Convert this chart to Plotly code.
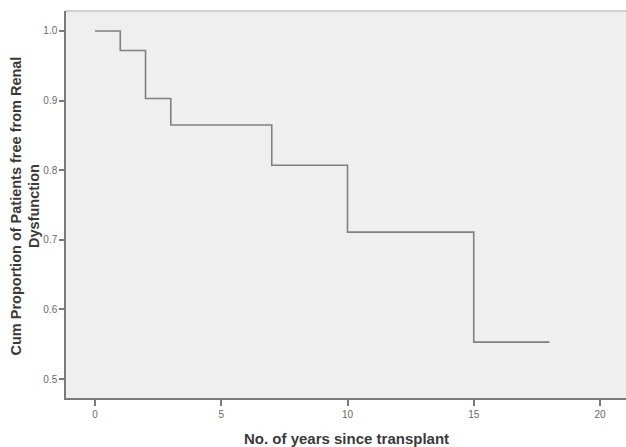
import plotly.graph_objects as go

years = [0, 1, 2, 3, 7, 10, 15, 18]
cum_prop = [1.0, 0.972, 0.903, 0.865, 0.807, 0.711, 0.553, 0.553]
x_ticks = [0, 5, 10, 15, 20]
y_ticks = [0.5, 0.6, 0.7, 0.8, 0.9, 1.0]
y_tick_labels = ["0.5", "0.6", "0.7", "0.8", "0.9", "1.0"]
x_title = "No. of years since transplant"
y_title = "Cum Proportion of Patients free from Renal<br>Dysfunction"

fig = go.Figure()
fig.add_trace(go.Scatter(
    x=years, y=cum_prop, mode="lines",
    line=dict(shape="hv", color="#808080", width=1.6),
    showlegend=False, hoverinfo="skip",
))

fig.update_layout(
    width=626, height=447,
    margin=dict(l=66, r=0, t=11, b=49, autoexpand=False),
    paper_bgcolor="white",
    plot_bgcolor="#efefef",
    font=dict(family="Liberation Sans, Arial, sans-serif", color="#555555", size=10),
    shapes=[dict(type="line", xref="paper", yref="paper", x0=0, x1=1, y0=1, y1=1,
                 line=dict(color="#c4c4c4", width=1.5))],
    annotations=[
        dict(text="<b>" + x_title + "</b>", xref="paper", yref="paper",
             x=0.5, y=0, xanchor="center", yanchor="middle", yshift=-40,
             showarrow=False, font=dict(size=15, color="#3a3a3a")),
        dict(text="<b>" + y_title + "</b>", xref="paper", yref="paper",
             x=0, y=0.5, xanchor="center", yanchor="middle", xshift=-41, yshift=-2,
             textangle=-90, showarrow=False, font=dict(size=14.5, color="#3a3a3a")),
    ],
)
fig.update_xaxes(
    range=[-1.15, 21.03], automargin=False,
    tickvals=x_ticks,
    ticks="outside", ticklen=6, tickwidth=1.5, tickcolor="#7a7a7a",
    showline=True, linecolor="#7a7a7a", linewidth=1.5,
    showgrid=False, zeroline=False,
    tickfont=dict(size=10, color="#6a6a6a"),
)
fig.update_yaxes(
    range=[0.4727, 1.0287], automargin=False,
    tickvals=y_ticks, ticktext=y_tick_labels,
    ticks="outside", ticklen=5, tickwidth=1.5, tickcolor="#7a7a7a",
    showline=True, linecolor="#7a7a7a", linewidth=1.5,
    showgrid=False, zeroline=False,
    tickfont=dict(size=10, color="#6a6a6a"),
)

fig.write_html("out.html",
               config={"displayModeBar": False},
               post_script="document.body.style.margin='0';document.body.style.overflow='hidden';")
